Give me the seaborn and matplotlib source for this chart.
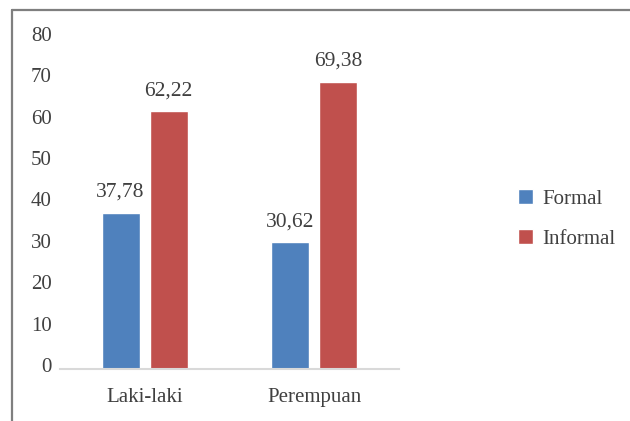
import pandas as pd
import numpy as np
import matplotlib.pyplot as plt
import seaborn as sns
from matplotlib.lines import Line2D
from matplotlib.transforms import ScaledTranslation

# data
categories = ['Laki-laki', 'Perempuan']
formal = [37.78, 30.62]
informal = [62.22, 69.38]
series = ['Formal', 'Informal']
yticks = [0, 10, 20, 30, 40, 50, 60, 70, 80]

df = pd.DataFrame({
    'kategori': categories * 2,
    'jenis': ['Formal'] * len(categories) + ['Informal'] * len(categories),
    'nilai': formal + informal,
})

sns.set_style('white')
plt.rcParams['font.family'] = ['Liberation Serif', 'DejaVu Serif']
text_col = '#404040'

fig = plt.figure(figsize=(6.3, 4.21), dpi=100)
ax = fig.add_axes([0.095, 0.1235, 0.538, 0.7865])

sns.barplot(data=df, x='kategori', y='nilai', hue='jenis', order=categories,
            hue_order=series, palette=['#4F81BD', '#C0504D'], saturation=1,
            width=0.566, gap=0.21, ax=ax, legend=True)

for cont in ax.containers:
    labels = [f'{b.get_height():.2f}'.replace('.', ',') for b in cont]
    ax.bar_label(cont, labels=labels, padding=8, fontsize=15.5, color=text_col)

ax.set_xlim(-0.5, 1.5)
ax.set_ylim(0, 80)
ax.set_yticks(yticks)
ax.set_xlabel('')
ax.set_ylabel('')
for s in ['top', 'right', 'left']:
    ax.spines[s].set_visible(False)
ax.spines['bottom'].set_color('#d9d9d9')
ax.spines['bottom'].set_linewidth(1.5)
ax.tick_params(axis='y', length=0, pad=6, labelsize=15, labelcolor=text_col)
ax.tick_params(axis='x', length=0, pad=14, labelsize=15, labelcolor=text_col)

# y labels sit a little above their values in the original
shift = ScaledTranslation(0, 4 / 100, fig.dpi_scale_trans)
for lab in ax.get_yticklabels():
    lab.set_transform(lab.get_transform() + shift)

leg = ax.legend(loc='center left', bbox_to_anchor=(0.793, 0.48),
                bbox_transform=fig.transFigure, frameon=False, fontsize=15,
                handlelength=0.7, handleheight=0.7, handletextpad=0.45,
                labelspacing=1.0, labelcolor=text_col)

# outer frame (only top and left visible)
fig.add_artist(Line2D([12 / 630, 12 / 630], [0, 1 - 10 / 421], color='#7f7f7f',
                      lw=1.6, transform=fig.transFigure))
fig.add_artist(Line2D([12 / 630, 1], [1 - 10 / 421, 1 - 10 / 421], color='#7f7f7f',
                      lw=1.6, transform=fig.transFigure))

plt.savefig('out.png', dpi=100)
